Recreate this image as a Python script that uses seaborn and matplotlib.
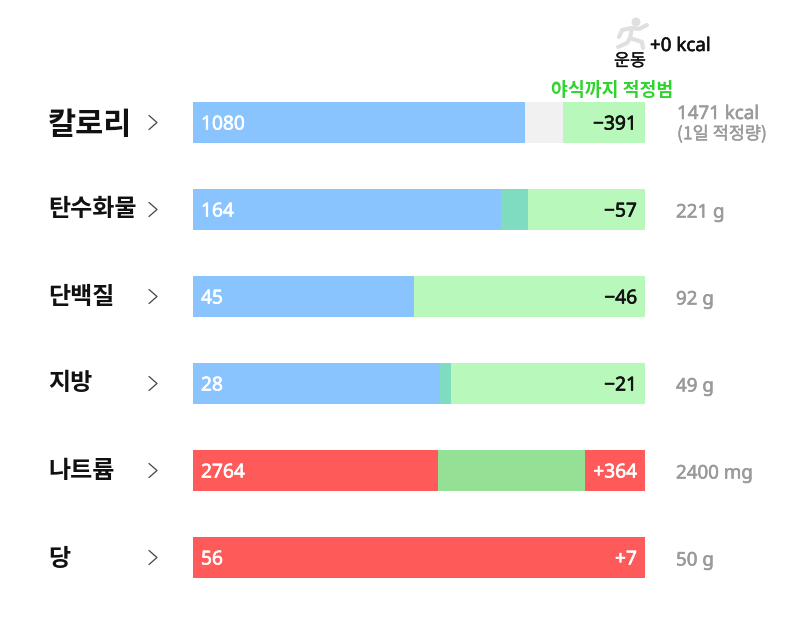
import matplotlib
matplotlib.use("Agg")
import matplotlib.pyplot as plt
import matplotlib.patheffects as pe
from matplotlib.lines import Line2D
from matplotlib.patches import Circle
import seaborn as sns
import pandas as pd

nutrients = ["칼로리", "탄수화물", "단백질", "지방", "나트륨", "당"]
eaten = [1080, 164, 45, 28, 2764, 56]
range_start = [1204, 150.5, 45, 26.8, 1498, 56]
recommended = [1471, 221, 92, 49, 2400, 50]
deltas = ["−391", "−57", "−46", "−21", "+364", "+7"]
targets = ["1471 kcal", "221 g", "92 g", "49 g", "2400 mg", "50 g"]

BLUE, TEAL, GREEN, GREY = "#8ac4ff", "#7fdcc0", "#b9f8bb", "#f1f1f1"
RED, DEEP_GREEN = "#ff5a5a", "#94e094"

sns.set_theme(style="white")
plt.rcParams["font.family"] = ["Noto Sans CJK KR", "DejaVu Sans"]

fig = plt.figure(figsize=(8, 6.18), dpi=100, facecolor="white")
ax = fig.add_axes([193 / 800, 1 - 601 / 618, 452 / 800, 522 / 618])

# Build each row's segments as (right edge, colour), left to right.
rows = []
for name, e, lo, rec in zip(nutrients, eaten, range_start, recommended):
    scale = max(e, rec)
    if e > rec:
        segs = [(lo, RED), (rec, DEEP_GREEN), (e, RED)] if lo < rec else [(e, RED)]
    elif e > lo:
        segs = [(lo, BLUE), (e, TEAL), (rec, GREEN)]
    elif e < lo:
        segs = [(e, BLUE), (lo, GREY), (rec, GREEN)]
    else:
        segs = [(e, BLUE), (rec, GREEN)]
    for order, (edge, colour) in enumerate(segs):
        rows.append({"nutrient": name, "edge": edge / scale, "colour": colour, "order": order})
table = pd.DataFrame(rows)

# Paint the segments from the right so nearer ones cover farther ones.
for order in sorted(table["order"].unique(), reverse=True):
    layer = table[table["order"] == order]
    sns.barplot(data=layer, y="nutrient", x="edge", hue="nutrient", order=nutrients,
                palette=dict(zip(layer["nutrient"], layer["colour"])),
                width=41 / 87, legend=False, saturation=1, linewidth=0, ax=ax)

ax.set_xlim(0, 1)
ax.set_ylim(5.5, -0.5)
ax.axis("off")

LATIN = ["Noto Sans", "Noto Sans CJK KR"]


def put(x, y, s, size, color="black", weight="normal", ha="left", family=None, heavy=0):
    t = fig.text(x / 800, 1 - y / 618, s, fontsize=size, color=color, fontweight=weight,
                 ha=ha, va="center", family=family or plt.rcParams["font.family"])
    if heavy:
        # A hairline outline gives the numerals a medium weight.
        t.set_path_effects([pe.withStroke(linewidth=heavy, foreground=color)])


centres = [122.5 + 87 * i for i in range(6)]
label_sizes = [22, 17.3, 17.3, 17.3, 17.3, 17.3]
label_shift = [3, 0, 0, 0, 0, 1]
for i, y in enumerate(centres):
    put(48, y + label_shift[i], nutrients[i], label_sizes[i], "#111111", "bold")
    fig.add_artist(Line2D([149 / 800, 157 / 800, 149 / 800],
                          [1 - (y - 7) / 618, 1 - y / 618, 1 - (y + 7) / 618],
                          color="#444444", lw=0.9))
    put(201, y + 2, str(eaten[i]), 13.8, "white", family=LATIN, heavy=0.45)
    over = deltas[i].startswith("+")
    put(637, y + 2, deltas[i], 13.8, "white" if over else "#111111", ha="right",
        family=LATIN, heavy=0.45)
    if i > 0:
        put(676, y + 3, targets[i], 13.5, "#9a9a9a", family=LATIN, heavy=0.4)

put(677, 114, targets[0], 13.5, "#9a9a9a", family=LATIN, heavy=0.4)
put(677, 134, "(1일 적정량)", 12.6, "#9a9a9a", "medium", heavy=0.3)

put(650, 46, "+0 kcal", 13.5, "#111111", family=LATIN, heavy=0.4)
put(630, 61, "운동", 12.5, "#111111", "medium", ha="center", heavy=0.2)
put(612, 90, "야식까지 적정범", 13.2, "#2fd42f", "bold", ha="center")

# Running figure above the calorie bar.
ICON = "#e0e0e0"
limbs = [
    [(647, 25), (639, 29), (632, 28), (622, 30), (619, 37)],
    [(632, 28), (630, 38), (642, 42), (643, 48)],
    [(630, 38), (627, 43), (618, 47)],
]
for limb in limbs:
    fig.add_artist(Line2D([p[0] / 800 for p in limb], [1 - p[1] / 618 for p in limb],
                          color=ICON, lw=3.0, solid_capstyle="round", solid_joinstyle="round"))
fig.add_artist(Circle((636, 618 - 22), 3.8, color=ICON, transform=None))

fig.savefig("out.png", dpi=100, facecolor="white")
